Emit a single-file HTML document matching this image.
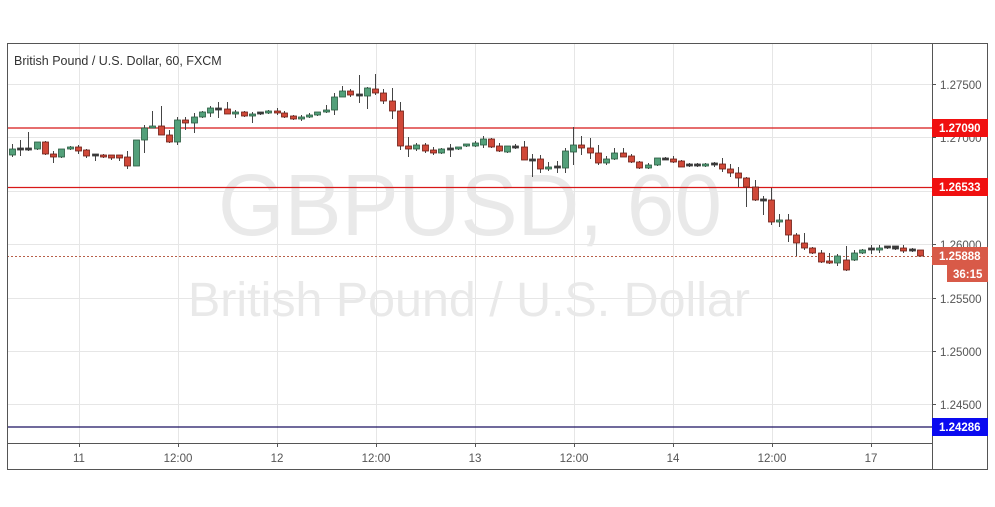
<!DOCTYPE html>
<html><head><meta charset="utf-8"><style>
html,body{margin:0;padding:0;background:#fff;width:995px;height:507px;overflow:hidden}
svg{display:block}
text{font-family:"Liberation Sans",sans-serif}
</style></head><body>
<svg id="s" width="995" height="507" xmlns="http://www.w3.org/2000/svg">
<rect x="0" y="0" width="995" height="507" fill="#fff"/>
<g stroke="#e6e6e6" stroke-width="1">
<line x1="7" x2="932" y1="84.5" y2="84.5"/><line x1="7" x2="932" y1="137.5" y2="137.5"/>
<line x1="7" x2="932" y1="191.5" y2="191.5"/><line x1="7" x2="932" y1="244.5" y2="244.5"/>
<line x1="7" x2="932" y1="298.5" y2="298.5"/><line x1="7" x2="932" y1="351.5" y2="351.5"/>
<line x1="7" x2="932" y1="404.5" y2="404.5"/>
<line x1="79.5" x2="79.5" y1="43" y2="443"/><line x1="178.5" x2="178.5" y1="43" y2="443"/>
<line x1="277.5" x2="277.5" y1="43" y2="443"/><line x1="376.5" x2="376.5" y1="43" y2="443"/>
<line x1="475.5" x2="475.5" y1="43" y2="443"/><line x1="574.5" x2="574.5" y1="43" y2="443"/>
<line x1="673.5" x2="673.5" y1="43" y2="443"/><line x1="772.5" x2="772.5" y1="43" y2="443"/>
<line x1="871.5" x2="871.5" y1="43" y2="443"/>
</g>
<text x="470" y="235" font-size="87" fill="#e9e9e9" text-anchor="middle" textLength="504" lengthAdjust="spacingAndGlyphs">GBPUSD, 60</text>
<text x="469" y="316" font-size="48" fill="#e9e9e9" text-anchor="middle" textLength="562" lengthAdjust="spacingAndGlyphs">British Pound / U.S. Dollar</text>
<text x="14" y="65" font-size="12.5" fill="#333">British Pound / U.S. Dollar, 60, FXCM</text>
<line x1="7" x2="932" y1="128" y2="128" stroke="#d81818" stroke-width="1.3"/>
<line x1="7" x2="932" y1="187.5" y2="187.5" stroke="#d81818" stroke-width="1.3"/>
<line x1="7" x2="932" y1="427" y2="427" stroke="#1a1060" stroke-width="1.3"/>
<line x1="7" x2="932" y1="256.5" y2="256.5" stroke="#b8604a" stroke-width="1" stroke-dasharray="2,2"/>
<g id="c"></g>
<rect x="7.5" y="43.5" width="980" height="426" fill="none" stroke="#555"/>
<line x1="7" x2="932" y1="443.5" y2="443.5" stroke="#555"/>
<line x1="932.5" x2="932.5" y1="43" y2="470" stroke="#555"/>
<g stroke="#555"><line x1="79.5" x2="79.5" y1="443" y2="447"/><line x1="178.5" x2="178.5" y1="443" y2="447"/><line x1="277.5" x2="277.5" y1="443" y2="447"/><line x1="376.5" x2="376.5" y1="443" y2="447"/><line x1="475.5" x2="475.5" y1="443" y2="447"/><line x1="574.5" x2="574.5" y1="443" y2="447"/><line x1="673.5" x2="673.5" y1="443" y2="447"/><line x1="772.5" x2="772.5" y1="443" y2="447"/><line x1="871.5" x2="871.5" y1="443" y2="447"/>
<line x1="932" x2="936" y1="84.5" y2="84.5"/><line x1="932" x2="936" y1="137.5" y2="137.5"/><line x1="932" x2="936" y1="244.5" y2="244.5"/><line x1="932" x2="936" y1="298.5" y2="298.5"/><line x1="932" x2="936" y1="351.5" y2="351.5"/><line x1="932" x2="936" y1="404.5" y2="404.5"/></g>
<g font-size="11.5" fill="#555" text-anchor="middle">
<text x="79" y="462">11</text><text x="178" y="462">12:00</text><text x="277" y="462">12</text><text x="376" y="462">12:00</text><text x="475" y="462">13</text><text x="574" y="462">12:00</text><text x="673" y="462">14</text><text x="772" y="462">12:00</text><text x="871" y="462">17</text>
</g>
<g font-size="11.5" fill="#555">
<text x="940" y="89">1.27500</text><text x="940" y="142">1.27000</text><text x="940" y="249">1.26000</text><text x="940" y="303">1.25500</text><text x="940" y="356">1.25000</text><text x="940" y="409">1.24500</text>
</g>
<rect x="932" y="119" width="56" height="18" fill="#f01010"/>
<rect x="932" y="178" width="56" height="18" fill="#f01010"/>
<rect x="932" y="247" width="56" height="18" fill="#d85a48"/>
<rect x="947" y="265" width="41" height="17" fill="#d85a48"/>
<rect x="932" y="418" width="56" height="18" fill="#0a0af0"/>
<g font-size="11.5" fill="#fff" font-weight="bold">
<text x="939" y="132">1.27090</text><text x="939" y="191">1.26533</text><text x="939" y="260">1.25888</text><text x="953" y="278">36:15</text><text x="939" y="431">1.24286</text>
</g>
</svg>
<script>
var d=[[12,155,149,144,157,1],[20,149,149,140,156,2],[28,149,149,132,151,2],[37,149,142,142,150,1],[45,142,154,141,155,0],[53,154,157,151,163,0],[61,157,149,149,158,1],[70,149,147,146,150,1],[78,147,151,145,154,0],[86,150,156,149,158,0],[95,155,155,155,161,2],[103,155,157,154,158,0],[111,156,157,155,160,0],[119,155,158,155,161,0],[127,157,166,151,169,0],[136,166,140,140,166,1],[144,140,128,125,153,1],[152,128,126,111,128,1],[161,126,135,106,135,0],[169,135,142,130,143,0],[177,142,120,117,145,1],[185,120,123,117,130,0],[194,123,117,113,133,1],[202,117,112,111,118,1],[210,113,108,106,117,1],[218,109,109,102,118,2],[227,109,114,102,114,0],[235,114,112,110,118,1],[244,112,116,111,117,0],[252,116,114,112,123,1],[260,113,113,112,115,2],[268,113,111,110,114,1],[277,111,113,108,115,0],[284,113,117,111,118,0],[293,116,119,115,120,0],[301,119,117,115,121,1],[309,117,115,113,118,1],[317,115,112,112,116,1],[326,112,110,105,113,1],[334,110,97,93,115,1],[342,97,91,86,97,1],[350,91,95,89,97,0],[359,95,95,75,103,2],[367,96,88,87,109,1],[375,89,93,74,95,0],[383,93,101,89,104,0],[392,101,111,88,119,0],[400,111,146,102,150,0],[408,146,149,137,157,0],[416,149,145,143,151,1],[425,145,151,143,153,0],[433,150,153,147,155,0],[441,153,149,148,154,1],[450,149,149,144,157,2],[458,149,147,147,150,1],[466,146,144,144,147,1],[475,145,144,141,147,1],[483,145,139,136,148,1],[491,139,147,138,148,0],[499,146,151,143,152,0],[507,152,146,146,153,1],[515,147,147,144,149,2],[524,147,160,141,160,0],[532,160,160,154,177,2],[540,159,169,155,173,0],[548,169,167,162,171,1],[557,167,167,161,173,2],[565,168,151,148,173,1],[573,152,145,127,165,1],[581,145,148,136,155,0],[590,148,153,138,159,0],[598,153,163,145,165,0],[606,163,159,156,165,1],[614,159,153,148,160,1],[623,153,157,148,157,0],[631,156,162,154,163,0],[639,162,168,161,169,0],[648,168,165,163,169,1],[657,165,158,158,166,1],[665,159,159,157,160,2],[673,159,162,156,163,0],[681,161,167,160,167,0],[689,165,165,163,167,2],[697,165,165,163,167,2],[705,166,164,163,167,1],[714,164,164,162,167,2],[722,164,169,158,172,0],[730,169,173,164,177,0],[738,173,178,167,187,0],[746,178,187,177,207,0],[755,187,200,180,201,0],[763,200,200,196,215,2],[771,200,222,188,225,0],[779,222,220,214,227,1],[788,220,235,214,242,0],[796,235,243,233,256,0],[804,243,248,233,250,0],[812,248,253,247,254,0],[821,253,262,250,263,0],[829,261,263,253,264,0],[837,263,256,254,266,1],[846,260,270,246,271,0],[854,260,253,250,261,1],[862,253,250,249,254,1],[871,249,249,245,254,2],[879,250,248,245,253,1],[887,247,247,246,249,2],[895,247,248,246,250,2],[903,248,251,245,253,0],[912,250,250,248,252,2],[920,250,256,250,256,0]];
var g=document.getElementById('c'),h='';
var col=['#d04838','#53a07a','#3b3b3b'],bd=['#6b1f16','#2a5a40','#3b3b3b'];
d.forEach(function(c){var x=c[0],t=Math.min(c[1],c[2]),b=Math.max(c[1],c[2]);if(b-t<2){t-=1;b+=1}
h+='<line x1="'+(x+0.5)+'" x2="'+(x+0.5)+'" y1="'+c[3]+'" y2="'+c[4]+'" stroke="#444" stroke-width="1"/>';
h+='<rect x="'+(x-2.5)+'" y="'+t+'" width="6" height="'+(b-t)+'" fill="'+col[c[5]]+'" stroke="'+bd[c[5]]+'" stroke-width="0.8"/>';});
g.innerHTML=h;
</script>
</body></html>
